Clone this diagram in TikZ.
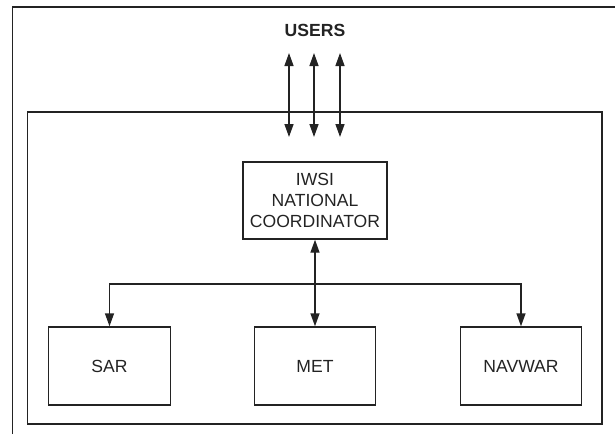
\documentclass[tikz,border=0pt]{standalone}
\usepackage{fontspec}
\setmainfont{Liberation Sans}
\usetikzlibrary{arrows.meta, positioning}
\definecolor{inkgray}{RGB}{35, 35, 35}

\begin{document}
\begin{tikzpicture}[
    box/.style={rectangle, draw=inkgray, line width=0.8pt, text=inkgray, minimum width=2.43cm, minimum height=1.56cm, text centered},
    arrow/.style={-{Triangle[length=2.6mm, width=1.8mm]}, line width=0.8pt, inkgray},
    twoway/.style={{Triangle[length=2.6mm, width=1.8mm]}-{Triangle[length=2.6mm, width=1.8mm]}, line width=0.8pt, inkgray}
]
\useasboundingbox (0,0) rectangle (12.3,-8.68);

% Outer frame (only top and left edges visible)
\draw[line width=0.8pt, inkgray] (0.25,-8.68) -- (0.25,-0.14) -- (12.3,-0.14);

% Inner frame
\draw[line width=0.8pt, inkgray] (0.55,-2.24) rectangle (12.04,-8.48);

% Users
\node[font=\bfseries, text=inkgray] (users) at (6.3,-0.6) {USERS};

\foreach \x [count=\i] in {5.78, 6.28, 6.8} {
    \coordinate (utop\i) at (\x,-1.06);
    \coordinate (ubot\i) at (\x,-2.74);
    \draw[twoway] (utop\i) -- (ubot\i);
}

% National coordinator
\node[box, align=center, minimum width=2.88cm, minimum height=1.54cm, inner sep=1pt] (coord) at (6.3,-4.01) {IWSI\\NATIONAL\\COORDINATOR};

% Services
\node[box] (sar) at (2.19,-7.32) {SAR};
\node[box] (met) at (6.3,-7.32) {MET};
\node[box] (nav) at (10.42,-7.32) {NAVWAR};

% Connectors
\coordinate (split) at (6.3,-5.68);
\draw[twoway] (coord) -- (met);
\draw[arrow] (split) -| (sar);
\draw[arrow] (split) -| (nav);
\end{tikzpicture}
\end{document}
